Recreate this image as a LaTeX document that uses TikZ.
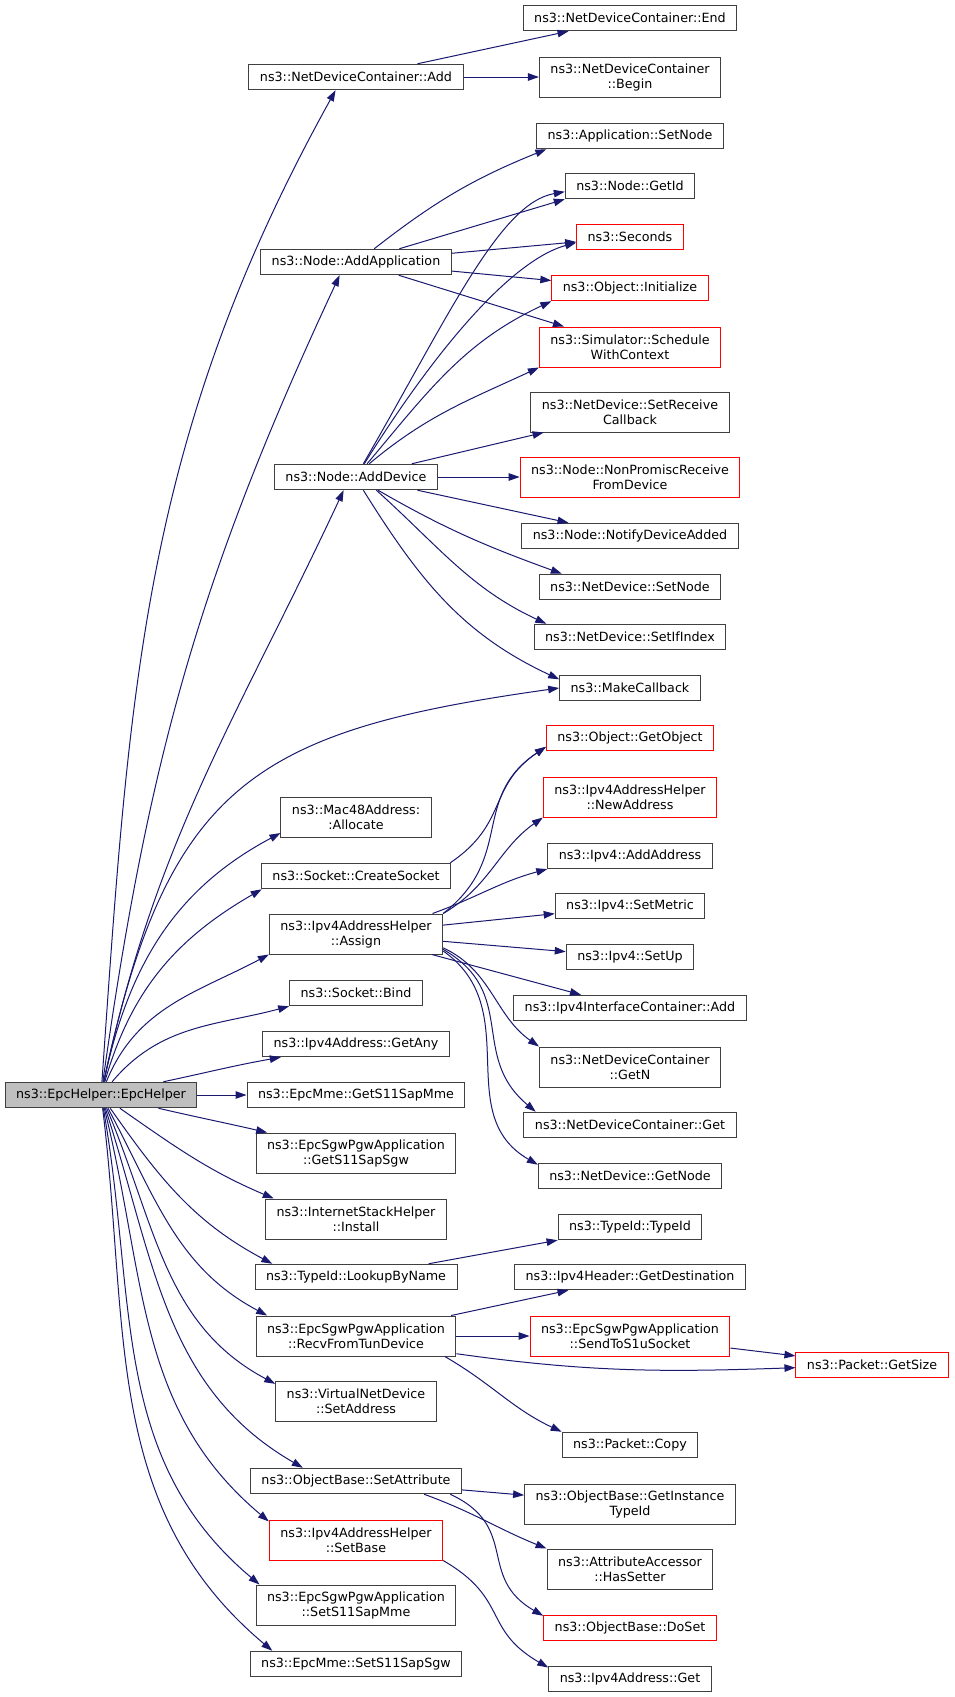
\documentclass[tikz,border=0pt]{standalone}
\usepackage{fontspec}
\setmainfont{DejaVu Sans}
\usepackage{tikz}
\usetikzlibrary{arrows.meta}
\definecolor{edgeblue}{HTML}{191970}
\definecolor{boxgray}{HTML}{404040}
\definecolor{boxred}{HTML}{FF0000}
\definecolor{rootfill}{HTML}{BFBFBF}
\tikzset{
    func/.style={
        rectangle,
        draw=boxgray,
        line width=1pt,
        fill=white,
        inner xsep=11pt,
        inner ysep=2pt,
        minimum height=25.5pt,
        align=center,
        font=\fontsize{12.7}{15}\selectfont,
    },
    funcred/.style={
        func,
        draw=boxred,
    },
    funcroot/.style={
        func,
        fill=rootfill,
    },
    twoline/.style={
        minimum height=40pt,
    },
    call/.style={
        ->,
        color=edgeblue,
        line width=1pt,
    },
}

\begin{document}
\begin{tikzpicture}[x=1pt, y=-1pt, >={Triangle[length=11pt,width=7.5pt]}]
      \useasboundingbox (0,0) rectangle (955,1697);

      % caller
      \node [funcroot] (EpcHelper) at (101,1095) {ns3::EpcHelper::EpcHelper};

      % first level
      \node [func] (NdcAdd) at (356,77) {ns3::NetDeviceContainer::Add};
      \node [func] (AddApp) at (356,262) {ns3::Node::AddApplication};
      \node [func] (AddDev) at (356,477) {ns3::Node::AddDevice};
      \node [func, twoline] (MacAlloc) at (356,817) {ns3::Mac48Address:\\:Allocate};
      \node [func] (CreateSock) at (356,876) {ns3::Socket::CreateSocket};
      \node [func, twoline] (Assign) at (356,934) {ns3::Ipv4AddressHelper\\::Assign};
      \node [func] (SockBind) at (356,993) {ns3::Socket::Bind};
      \node [func] (GetAny) at (356,1044) {ns3::Ipv4Address::GetAny};
      \node [func] (GetSapMme) at (356,1095) {ns3::EpcMme::GetS11SapMme};
      \node [func, twoline] (GetSapSgw) at (356,1153) {ns3::EpcSgwPgwApplication\\::GetS11SapSgw};
      \node [func, twoline] (StackInstall) at (356,1219) {ns3::InternetStackHelper\\::Install};
      \node [func] (Lookup) at (356,1277) {ns3::TypeId::LookupByName};
      \node [func, twoline] (RecvTun) at (356,1336) {ns3::EpcSgwPgwApplication\\::RecvFromTunDevice};
      \node [func, twoline] (SetAddr) at (356,1401) {ns3::VirtualNetDevice\\::SetAddress};
      \node [func] (SetAttr) at (356,1481) {ns3::ObjectBase::SetAttribute};
      \node [funcred, twoline] (SetBase) at (356,1540) {ns3::Ipv4AddressHelper\\::SetBase};
      \node [func, twoline] (SetSapMme) at (356,1605) {ns3::EpcSgwPgwApplication\\::SetS11SapMme};
      \node [func] (SetSapSgw) at (356,1664) {ns3::EpcMme::SetS11SapSgw};

      % second level
      \node [func] (NdcEnd) at (630,18) {ns3::NetDeviceContainer::End};
      \node [func, twoline] (NdcBegin) at (630,77) {ns3::NetDeviceContainer\\::Begin};
      \node [func] (AppSetNode) at (630,136) {ns3::Application::SetNode};
      \node [func] (GetId) at (630,186) {ns3::Node::GetId};
      \node [funcred] (Seconds) at (630,237) {ns3::Seconds};
      \node [funcred] (Init) at (630,288) {ns3::Object::Initialize};
      \node [funcred, twoline] (Schedule) at (630,347) {ns3::Simulator::Schedule\\WithContext};
      \node [func, twoline] (SetRecvCb) at (630,412) {ns3::NetDevice::SetReceive\\Callback};
      \node [funcred, twoline] (NonPromisc) at (630,477) {ns3::Node::NonPromiscReceive\\FromDevice};
      \node [func] (Notify) at (630,536) {ns3::Node::NotifyDeviceAdded};
      \node [func] (DevSetNode) at (630,587) {ns3::NetDevice::SetNode};
      \node [func] (SetIfIndex) at (630,637) {ns3::NetDevice::SetIfIndex};
      \node [func] (MakeCb) at (630,688) {ns3::MakeCallback};
      \node [funcred] (GetObj) at (630,738) {ns3::Object::GetObject};
      \node [funcred, twoline] (NewAddr) at (630,797) {ns3::Ipv4AddressHelper\\::NewAddress};
      \node [func] (AddAddr) at (630,856) {ns3::Ipv4::AddAddress};
      \node [func] (SetMetric) at (630,906) {ns3::Ipv4::SetMetric};
      \node [func] (SetUp) at (630,957) {ns3::Ipv4::SetUp};
      \node [func] (IfcAdd) at (630,1008) {ns3::Ipv4InterfaceContainer::Add};
      \node [func, twoline] (NdcGetN) at (630,1067) {ns3::NetDeviceContainer\\::GetN};
      \node [func] (NdcGet) at (630,1125) {ns3::NetDeviceContainer::Get};
      \node [func] (DevGetNode) at (630,1176) {ns3::NetDevice::GetNode};
      \node [func] (TypeIdCtor) at (630,1227) {ns3::TypeId::TypeId};
      \node [func] (GetDest) at (630,1277) {ns3::Ipv4Header::GetDestination};
      \node [funcred, twoline] (SendS1u) at (630,1336) {ns3::EpcSgwPgwApplication\\::SendToS1uSocket};
      \node [func] (PktCopy) at (630,1445) {ns3::Packet::Copy};
      \node [func, twoline] (GetInstTid) at (630,1504) {ns3::ObjectBase::GetInstance\\TypeId};
      \node [func, twoline] (HasSetter) at (630,1569) {ns3::AttributeAccessor\\::HasSetter};
      \node [funcred] (DoSet) at (630,1628) {ns3::ObjectBase::DoSet};
      \node [func] (AddrGet) at (630,1679) {ns3::Ipv4Address::Get};

      % third level
      \node [funcred] (PktSize) at (872,1365) {ns3::Packet::GetSize};

      % calls of the caller
      \path[call] (EpcHelper) edge [out=86, in=241] (NdcAdd.213);
      \path[call] (EpcHelper) edge [out=82, in=245] (AddApp.219);
      \path[call] (EpcHelper) edge [out=78, in=245] (AddDev.227);
      \path[call] (EpcHelper) edge [out=78, in=188, looseness=1.3] (MakeCb.west);
      \path[call] (EpcHelper) edge [out=78, in=208] (MacAlloc.192);
      \path[call] (EpcHelper) edge [out=74, in=210] (CreateSock.188);
      \path[call] (EpcHelper) edge [out=68, in=208] (Assign.south west);
      \path[call] (EpcHelper) edge [out=50, in=195] (SockBind.south west);
      \path[call] (EpcHelper) edge [out=12, in=190] (GetAny.190.6);
      \path[call] (EpcHelper) edge (GetSapMme);
      \path[call] (EpcHelper) edge [out=-13, in=167] (GetSapSgw.167.3);
      \path[call] (EpcHelper) edge [out=-35, in=157] (StackInstall.166.1);
      \path[call] (EpcHelper) edge [out=-55, in=152] (Lookup.171.4);
      \path[call] (EpcHelper) edge [out=-62, in=152] (RecvTun.167.2);
      \path[call] (EpcHelper) edge [out=-67, in=152] (SetAddr.168.7);
      \path[call] (EpcHelper) edge [out=-72, in=150] (SetAttr.166.5);
      \path[call] (EpcHelper) edge [out=-76, in=140] (SetBase.168.3);
      \path[call] (EpcHelper) edge [out=-80, in=140] (SetSapMme.168.2);
      \path[call] (EpcHelper) edge [out=-83, in=140] (SetSapSgw.171.8);

      % NetDeviceContainer::Add
      \path[call] (NdcAdd) edge (NdcEnd);
      \path[call] (NdcAdd) edge (NdcBegin);

      % Node::AddApplication
      \path[call] (AddApp.36) edge [out=38, in=202] (AppSetNode.189.6);
      \path[call] (AddApp.17.8) edge (GetId.south west);
      \path[call] (AddApp) edge (Seconds);
      \path[call] (AddApp) edge (Init);
      \path[call] (AddApp) edge (Schedule);

      % Node::AddDevice
      \path[call] (AddDev.61.7) edge [out=60, in=190, out looseness=1.3, in looseness=0.5] (GetId.185.3);
      \path[call] (AddDev.58) edge [out=58, in=195, out looseness=1.3, in looseness=0.5] (Seconds.186.3);
      \path[call] (AddDev.50) edge [out=50, in=205] (Init.south west);
      \path[call] (AddDev.45) edge [out=40, in=205] (Schedule.south west);
      \path[call] (AddDev) edge (SetRecvCb);
      \path[call] (AddDev) edge (NonPromisc);
      \path[call] (AddDev) edge (Notify);
      \path[call] (AddDev.-31.8) edge [out=-30, in=160] (DevSetNode.169.9);
      \path[call] (AddDev.-33) edge [out=-42, in=155] (SetIfIndex.171.1);
      \path[call] (AddDev.-61.7) edge [out=-58, in=155] (MakeCb.173.5);

      % Socket::CreateSocket
      \path[call] (CreateSock.8.6) edge [out=34, in=214, looseness=1.2] (GetObj.186.2);

      % Ipv4AddressHelper::Assign
      \path[call] (Assign.north east) edge [out=38, in=214, looseness=1.2] (GetObj.186.2);
      \path[call] (Assign.north east) edge [out=30, in=215] (NewAddr.south west);
      \path[call] (Assign.15.2) edge [out=20, in=195] (AddAddr.189.6);
      \path[call] (Assign) edge (SetMetric);
      \path[call] (Assign) edge (SetUp);
      \path[call] (Assign) edge (IfcAdd);
      \path[call] (Assign.-9) edge [out=-25, in=145] (NdcGetN.north west);
      \path[call] (Assign.-10) edge [out=-30, in=140, looseness=1.2] (NdcGet.172.7);
      \path[call] (Assign.-11) edge [out=-35, in=150, looseness=1.1] (DevGetNode.173.8);

      % TypeId::LookupByName
      \path[call] (Lookup) edge (TypeIdCtor);

      % EpcSgwPgwApplication::RecvFromTunDevice
      \path[call] (RecvTun) edge (GetDest);
      \path[call] (RecvTun) edge (SendS1u);
      \path[call] (RecvTun.-10) edge [out=-8, in=182] (PktSize.182.2);
      \path[call] (RecvTun.-13.9) edge [out=-30, in=155] (PktCopy.north west);
      \path[call] (SendS1u) edge (PktSize);

      % ObjectBase::SetAttribute
      \path[call] (SetAttr) edge (GetInstTid);
      \path[call] (SetAttr.-11) edge [out=-20, in=158] (HasSetter.north west);
      \path[call] (SetAttr.-8.6) edge [out=-25, in=150, looseness=1.3] (DoSet.172.8);

      % Ipv4AddressHelper::SetBase
      \path[call] (SetBase.south east) edge [out=-30, in=150, looseness=1.3] (AddrGet.172.4);
\end{tikzpicture}
\end{document}
